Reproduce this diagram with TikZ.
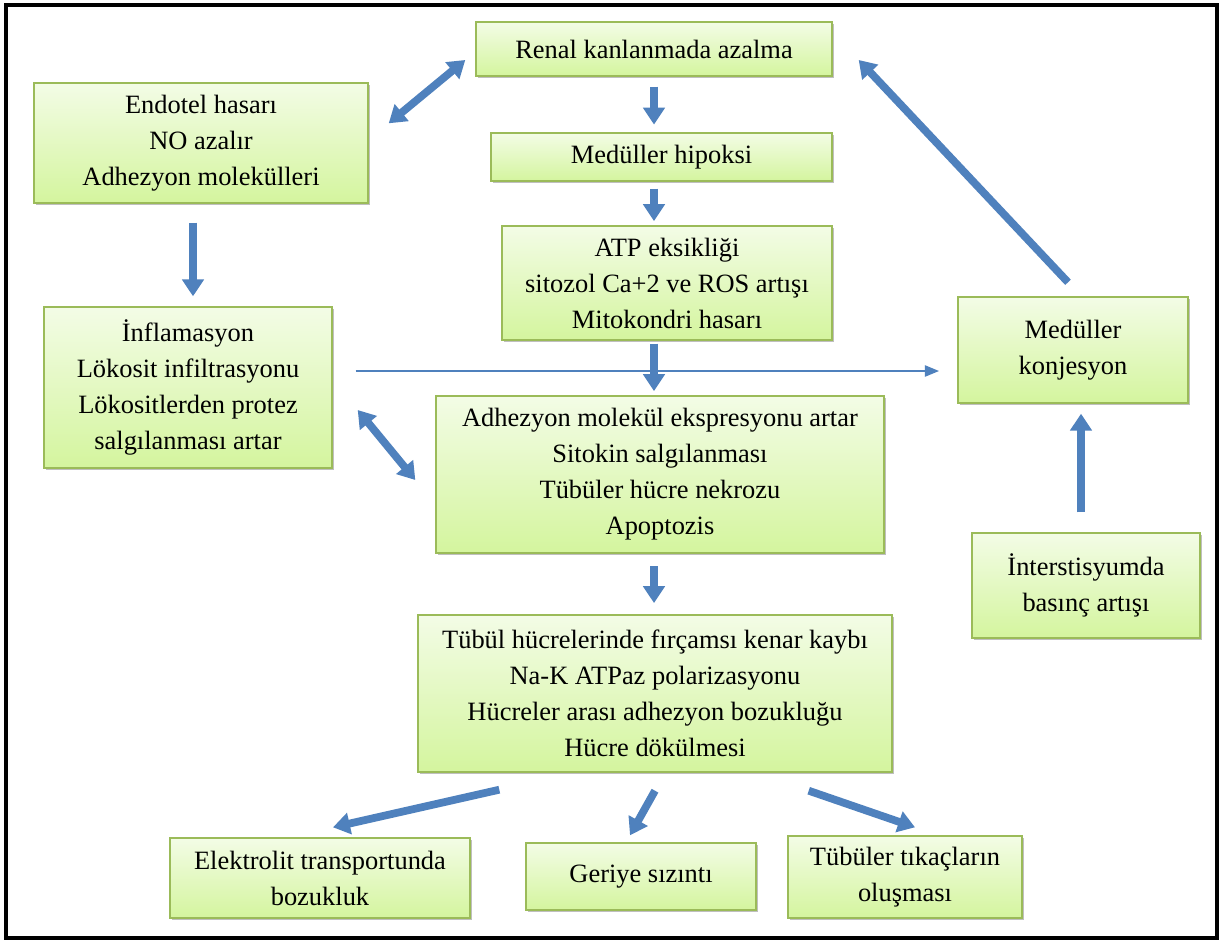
\documentclass[tikz,border=0pt]{standalone}
\usepackage{fontspec}
\setmainfont{Liberation Serif}
\usepackage{xcolor}
\usetikzlibrary{arrows.meta,calc,shadows}
\definecolor{boxtop}{RGB}{243,252,230}
\definecolor{boxbot}{RGB}{212,245,158}
\definecolor{boxline}{RGB}{155,187,89}
\definecolor{arrowblue}{RGB}{79,129,189}

\begin{document}
\begin{tikzpicture}[x=0.025cm, y=-0.025cm,
  box/.style 2 args={draw=boxline, line width=1pt, top color=boxtop, bottom color=boxbot,
    drop shadow={opacity=0.25, shadow xshift=1.2pt, shadow yshift=-1.5pt, fill=black},
    minimum width=#1*0.025cm, minimum height=#2*0.025cm, inner sep=0pt, align=center,
    font=\fontsize{18.8}{25.6}\selectfont},
  blk/.style={draw=arrowblue, line width=5.5pt, -{Triangle[length=12pt,width=15pt]}},
  blk2/.style={draw=arrowblue, line width=5.5pt,
    {Triangle[length=12pt,width=15pt]}-{Triangle[length=12pt,width=15pt]}},
  thn/.style={draw=arrowblue, line width=1pt, -{Triangle[length=10pt,width=8pt]}}]

  % Frame
  \fill[white] (0,0) rectangle (1224,941);
  \useasboundingbox (0,0) rectangle (1224,941);
  \draw[line width=2.8pt] (6,5) rectangle (1217,938);

  % Centre column
  \node[box={356}{54}] (ren) at (654,49) {Renal kanlanmada azalma};
  \node[box={341}{48}] (hip) at (661.5,157) {Medüller hipoksi};
  \node[box={330}{114}] (atp) at (667,283) {ATP eksikliği\\sitozol Ca+2 ve ROS artışı\\Mitokondri hasarı};
  \node[box={448}{157}] (adh) at (660,474.5) {Adhezyon molekül ekspresyonu artar\\Sitokin salgılanması\\Tübüler hücre nekrozu\\Apoptozis};
  \node[box={474}{157}] (tub) at (655,693.5) {Tübül hücrelerinde fırçamsı kenar kaybı\\Na-K ATPaz polarizasyonu\\Hücreler arası adhezyon bozukluğu\\Hücre dökülmesi};

  % Left column
  \node[box={334}{120}] (endo) at (201,143) {Endotel hasarı\\NO azalır\\Adhezyon molekülleri};
  \node[box={288}{161}] (inf) at (188,387.5) {İnflamasyon\\Lökosit infiltrasyonu\\Lökositlerden protez\\salgılanması artar};

  % Right column
  \node[box={230}{106}] (kon) at (1073,350) {Medüller\\konjesyon};
  \node[box={228}{105}] (int) at (1086,585.5) {İnterstisyumda\\basınç artışı};

  % Bottom row
  \node[box={300}{80}] (elk) at (320,878) {Elektrolit transportunda\\bozukluk};
  \node[box={230}{67}] (ger) at (641,876.5) {Geriye sızıntı};
  \node[box={234}{82}] (tik) at (905,877) {Tübüler tıkaçların\\oluşması};

  % Vertical arrows
  \draw[blk, shorten <=7pt, shorten >=5.5pt] (ren.south) -- (ren.south |- hip.north);
  \draw[blk, shorten <=5pt, shorten >=3pt] (hip.south -| ren.south) -- (atp.north -| ren.south);
  \draw[blk, shorten <=2pt, shorten >=3pt] (atp.south -| ren.south) -- (adh.north -| ren.south);
  \draw[blk, shorten <=9pt, shorten >=8pt] (adh.south -| ren.south) -- (tub.north -| ren.south);
  \draw[blk] ($(endo.south)+(-8,19)$) -- ($(inf.north)+(5,-10)$);
  \draw[blk] ($(int.north)+(-5,-20)$) coordinate (i1) -- ($(i1 |- kon.south)+(0,10)$);

  % Diagonal arrows
  \draw[blk2] ($(endo.north east)+(20,41)$) -- ($(ren.west)+(-10,11)$);
  \draw[blk2] ($(inf.east)+(25,22.5)$) -- ($(adh.west)+(-20,5.5)$);
  \draw[blk] ($(kon.north)+(-5,-14)$) -- ($(ren.east)+(26,11)$);
  \draw[blk] ($(tub.south west)+(82,17)$) -- ($(elk.north)+(13,-10)$);
  \draw[blk] ($(tub.south)+(0,18)$) -- ($(ger.north)+(-11,-7)$);
  \draw[blk] ($(tub.south east)+(-84,18)$) -- ($(tik.north)+(10,-8)$);

  % Thin arrow
  \draw[thn, shorten >=13pt] ($(inf.east)+(23,-16.5)$) coordinate (t1) -- (t1 -| kon.west);
\end{tikzpicture}
\end{document}
